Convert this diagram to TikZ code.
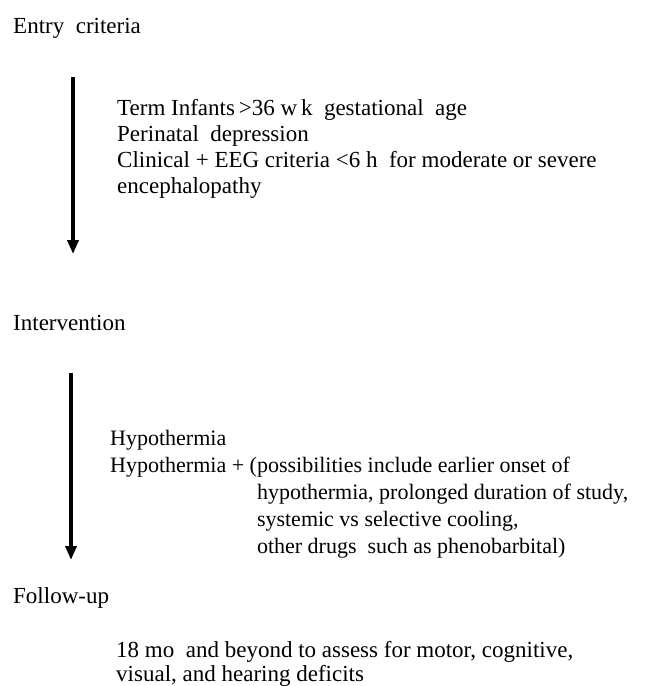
\documentclass[tikz,border=0pt]{standalone}
\usepackage{fontspec}
\setmainfont{Liberation Serif}
\usetikzlibrary{arrows.meta}
\begin{document}
\begin{tikzpicture}[x=1pt,y=-1pt,
  head/.style={anchor=base west,inner sep=0pt,font=\fontsize{23}{26}\selectfont},
  body/.style={anchor=base west,inner sep=0pt,align=left,font=\fontsize{23}{26}\selectfont},
  flow/.style={line width=3.5pt,-{Triangle[length=14pt,width=11pt]}}]
\useasboundingbox (0,0) rectangle (660,686);
\clip (0,0) rectangle (660,686);
\node[head] (entry) at (13,33) {Entry\ \ criteria};
\node[body] (crit) at (117,193) {Term Infants\,>36 w\,k \ gestational \ age\\Perinatal \ depression\\Clinical + EEG criteria <6 h \ for moderate or severe\\encephalopathy};
\coordinate (a1s) at (73,77);
\coordinate (a1e) at (73,254);
\draw[flow] (a1s) -- (a1e);
\node[head] (interv) at (13,330) {Intervention};
\node[body,font=\fontsize{22}{27}\selectfont] (hypo) at (110,553) {Hypothermia\\Hypothermia + (possibilities include earlier onset of\\
\hphantom{Hypothermia + (}hypothermia, prolonged duration of study,\\
\hphantom{Hypothermia + (}systemic vs selective cooling,\\
\hphantom{Hypothermia + (}other drugs \ such as phenobarbital)};
\coordinate (a2s) at (71,373);
\coordinate (a2e) at (71,560);
\draw[flow] (a2s) -- (a2e);
\node[head] (follow) at (13,603) {Follow-up};
\node[body,font=\fontsize{23}{24}\selectfont] (fu) at (116,681) {18 mo \ and beyond to assess for motor, cognitive,\\visual, and hearing deficits};
\end{tikzpicture}
\end{document}
